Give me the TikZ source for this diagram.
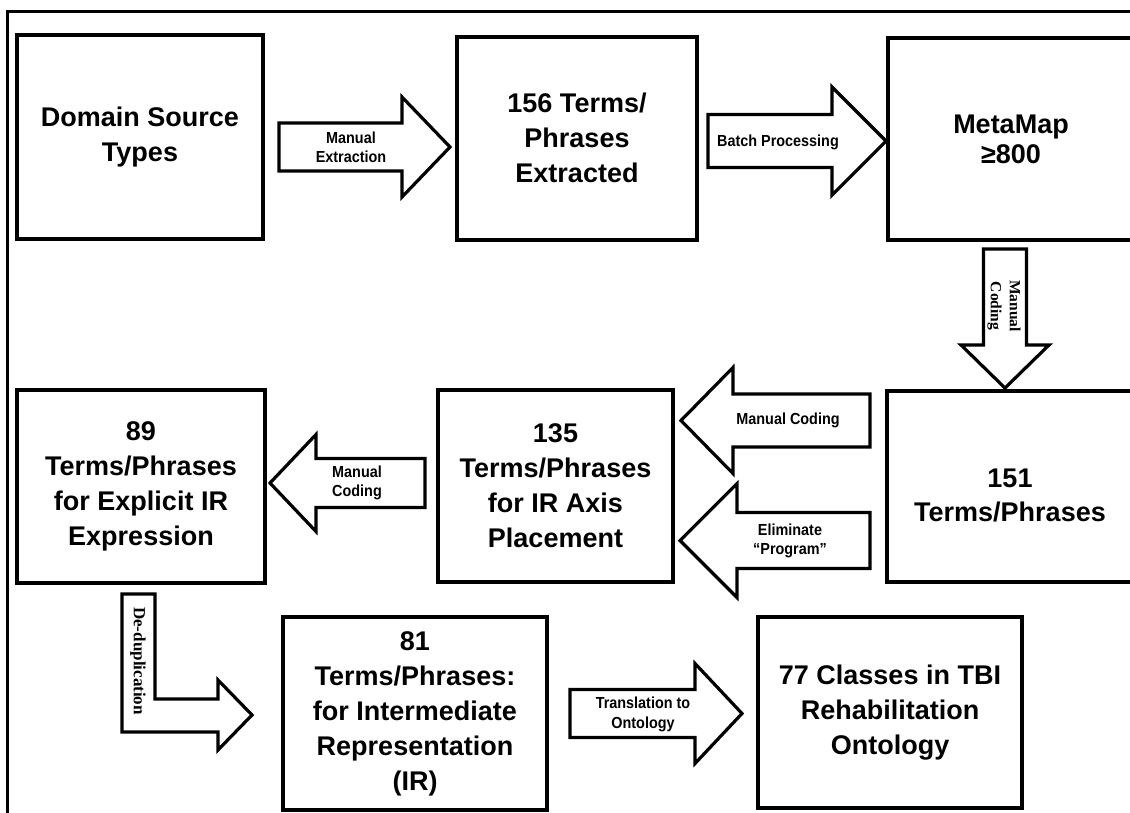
\documentclass[tikz,border=0pt]{standalone}
\usepackage{fontspec}
\setmainfont{Liberation Sans}
\newfontfamily\labelfont[FakeStretch=0.9]{Liberation Sans}
\newfontfamily\sidefont{Liberation Serif}
\usetikzlibrary{calc}

\tikzset{
  box/.style={draw, line width=4pt, align=center, inner sep=0pt,
    font=\bfseries\fontsize{27}{35}\selectfont},
  boxtext/.style={align=center, inner sep=0pt,
    font=\bfseries\fontsize{27}{34}\selectfont},
  arrowline/.style={draw, line width=3.2pt, fill=white, line join=miter},
  lbl/.style={align=center, inner sep=0pt,
    font=\labelfont\bfseries\fontsize{16}{19}\selectfont},
  sidelbl/.style={align=center, inner sep=0pt, rotate=-90,
    font=\sidefont\bfseries\fontsize{15.5}{19}\selectfont},
  % block arrow: total length, shaft half-width, head half-width, head length
  pics/blockarrow/.style n args={4}{code={
    \path[arrowline] (0,-#2) -- ({#1-#4},-#2) -- ({#1-#4},-#3) -- (#1,0)
      -- ({#1-#4},#3) -- ({#1-#4},#2) -- (0,#2) -- cycle;
  }},
}

\begin{document}
\begin{tikzpicture}[x=1pt,y=-1pt]
\useasboundingbox (0,0) rectangle (1130,812);
\clip (0,0) rectangle (1130,812);
\fill[white] (0,0) rectangle (1130,812);

% outer frame
\draw[line width=3pt] (7,11) rectangle (1145,830);

% process boxes
\node[box, minimum width=246pt, minimum height=204pt] (b1) at (140,137) {Domain Source\\Types};
\node[box, minimum width=240pt, minimum height=203pt] (b2) at (577,138) {156 Terms/\\Phrases\\Extracted};
\node[box, minimum width=246pt, minimum height=202pt,
      font=\bfseries\fontsize{27}{30}\selectfont] (b3) at (1011,139) {MetaMap\\≥800};
\node[box, minimum width=246pt, minimum height=191pt] (b151) at (1010,486.5) {};
\node[boxtext] (t151) at (1010,495) {151\\Terms/Phrases};
\node[box, minimum width=235pt, minimum height=192pt] (b135) at (555.5,486) {135\\Terms/Phrases\\for IR Axis\\Placement};
\node[box, minimum width=248pt, minimum height=193pt] (b89) at (141,486.5) {89\\Terms/Phrases\\for Explicit IR\\Expression};
\node[box, minimum width=264pt, minimum height=193pt] (b81) at (415,713.5) {81\\Terms/Phrases:\\for Intermediate\\Representation\\(IR)};
\node[box, minimum width=264pt, minimum height=191pt] (b77) at (890,712.5) {77 Classes in TBI\\Rehabilitation\\Ontology};

% block arrows between the boxes
\coordinate (a1) at ($(b1.east)+(14,10)$);
\pic at (a1) {blockarrow={171}{24}{50}{48}};
\node[lbl] (l1) at ($(a1)+(72,0)$) {Manual\\Extraction};

\coordinate (a2) at ($(b2.east)+(9,3)$);
\pic at (a2) {blockarrow={178}{26.5}{54}{54}};
\node[lbl] (l2) at ($(a2)+(70,1)$) {Batch Processing};

\coordinate (a3) at ($(b3.south)+(-6,7)$);
\pic[rotate=-90] at (a3) {blockarrow={139}{21.5}{44}{43}};
\node[sidelbl] (l3) at ($(a3)+(-1,57)$) {Manual\\Coding};

\coordinate (a4) at ($(b151.west)+(-15,-66)$);
\pic[rotate=180] at (a4) {blockarrow={189}{26.5}{53}{52}};
\node[lbl] (l4) at ($(a4)+(-82,0)$) {Manual Coding};

\coordinate (a5) at ($(b151.west)+(-15,54)$);
\pic[rotate=180] at (a5) {blockarrow={190}{28}{57}{57}};
\node[lbl] (l5) at ($(a5)+(-80,0)$) {Eliminate\\“Program”};

\coordinate (a6) at ($(b135.west)+(-11,-3)$);
\pic[rotate=180] at (a6) {blockarrow={155}{24.5}{48.5}{46}};
\node[lbl] (l6) at ($(a6)+(-68,0)$) {Manual\\Coding};

% bent de-duplication arrow
\coordinate (a7) at ($(b89.south)+(-19,9)$);
\path[arrowline] (a7) -- ++(33,0) -- ++(0,105) -- ++(63,0) -- ++(0,-19)
  -- ++(34,35) -- ++(-34,35) -- ++(0,-18) -- ++(-96,0) -- cycle;
\node[sidelbl, font=\sidefont\bfseries\fontsize{17}{18}\selectfont] (l7) at ($(a7)+(16,67)$) {De-duplication};

\coordinate (a8) at ($(b81.east)+(21,0)$);
\pic at (a8) {blockarrow={172}{24}{50}{47}};
\node[lbl, font=\labelfont\bfseries\fontsize{16}{20}\selectfont] (l8) at ($(a8)+(73,1)$) {Translation to\\Ontology};
\end{tikzpicture}
\end{document}
